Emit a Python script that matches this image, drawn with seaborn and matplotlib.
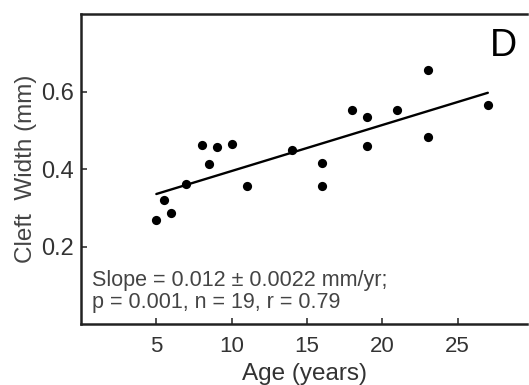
import numpy as np
import pandas as pd
import seaborn as sns
import matplotlib
matplotlib.use('Agg')
import matplotlib.pyplot as plt

# ages (years) and cleft widths (mm)
age = [5.0, 5.5, 6.0, 7.0, 8.0, 8.5, 9.0, 10.0, 11.0, 14.0,
       16.0, 16.0, 18.0, 19.0, 19.0, 21.0, 23.0, 23.0, 27.0]
width = [0.268, 0.320, 0.286, 0.361, 0.462, 0.414, 0.456, 0.465, 0.355, 0.450,
         0.415, 0.356, 0.551, 0.534, 0.459, 0.551, 0.655, 0.482, 0.564]
xticks = [5, 10, 15, 20, 25]
yticks = [0.2, 0.4, 0.6]
stats_text = "Slope = 0.012 \u00b1 0.0022 mm/yr;\np = 0.001, n = 19, r = 0.79"

df = pd.DataFrame({'Age': age, 'Width': width})

sns.set_style('ticks')
plt.rcParams['font.family'] = ['Liberation Sans', 'DejaVu Sans']

fig = plt.figure(figsize=(5.29, 3.85), dpi=100)
ax = fig.add_axes([81 / 529, 61 / 385, 446 / 529, 310 / 385])

sns.regplot(data=df, x='Age', y='Width', ci=None, ax=ax,
            scatter_kws={'s': 44, 'color': 'black', 'alpha': 1, 'linewidths': 0},
            line_kws={'color': 'black', 'lw': 1.7})

ax.set_xlim(0, 29.6)
ax.set_ylim(0, 0.8)
ax.set_xticks(xticks)
ax.set_yticks(yticks)
ax.set_xticklabels([str(t) for t in xticks])
ax.set_yticklabels([f"{t:.1f}" for t in yticks])
ax.tick_params(direction='in', length=4, width=1.2,
               colors='#333333', pad=6)
ax.tick_params(axis='x', labelsize=16, pad=9)
ax.tick_params(axis='y', labelsize=17, pad=5)

for side in ['left', 'bottom', 'top']:
    ax.spines[side].set_linewidth(1.8)
    ax.spines[side].set_color('#222222')
ax.spines['right'].set_visible(False)

ax.set_xlabel('Age (years)', fontsize=17.5, color='#333333', labelpad=4)
ax.set_ylabel('Cleft  Width (mm)', fontsize=17.5, color='#444444', labelpad=3)

ax.text(0.025, 0.035, stats_text, transform=ax.transAxes, fontsize=15.5,
        color='#444444', ha='left', va='bottom', linespacing=1.1)
ax.text(0.948, 0.955, 'D', transform=ax.transAxes, fontsize=27,
        color='black', ha='center', va='top')

fig.savefig('out.png', dpi=100)
